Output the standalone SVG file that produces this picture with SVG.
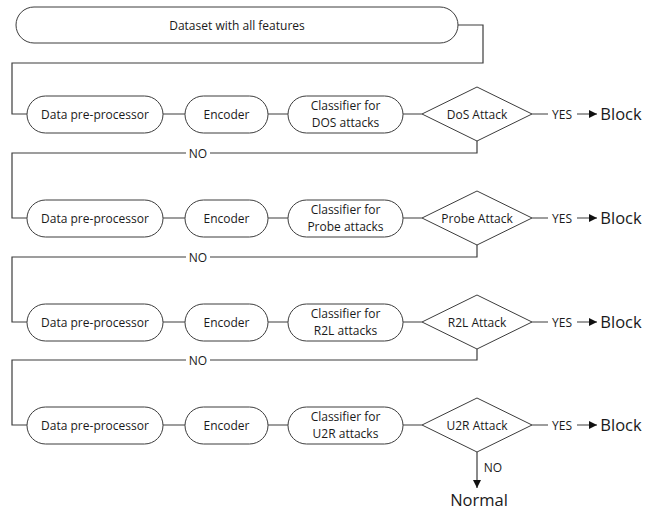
<svg xmlns="http://www.w3.org/2000/svg" width="656" height="510" viewBox="0 0 656 510">
<style>
.n{fill:#fff;stroke:#3c3c3c;stroke-width:1}
.c{fill:none;stroke:#3c3c3c;stroke-width:1.2}
text{font-family:"Open Sans","Noto Sans",sans-serif;fill:#1a1a1a;font-size:12px;text-anchor:middle;dominant-baseline:central}
.big{font-size:16.5px}
</style>
<defs>
<marker id="ah" viewBox="0 0 10 10" refX="10" refY="5" markerWidth="10" markerHeight="8" markerUnits="userSpaceOnUse" orient="auto"><path d="M0,0L10,5L0,10z" fill="#111"/></marker>
</defs>
<rect width="656" height="510" fill="#fff"/>
<g id="connectors">
<path class="c" d="M458,25H483V63H12V114H27"/>
<path class="c" d="M163,114H185M268,114H288M403,114H422"/>
<path class="c" d="M477,141V153H12V218H27"/>
<path class="c" d="M163,218H185M268,218H288M403,218H422"/>
<path class="c" d="M477,245V257H12V322H27"/>
<path class="c" d="M163,322H185M268,322H288M403,322H422"/>
<path class="c" d="M477,349V360H12V425H27"/>
<path class="c" d="M163,425H185M268,425H288M403,425H422"/>
<path class="c" d="M532,114H548M577,114H597" marker-end="url(#ah)"/>
<path class="c" d="M532,218H548M577,218H597" marker-end="url(#ah)"/>
<path class="c" d="M532,322H548M577,322H597" marker-end="url(#ah)"/>
<path class="c" d="M532,425H548M577,425H597" marker-end="url(#ah)"/>
<path class="c" d="M477,452V488" marker-end="url(#ah)"/>
<rect x="186" y="146" width="24" height="14" fill="#fff"/><text x="198" y="153">NO</text>
<rect x="186" y="250" width="24" height="14" fill="#fff"/><text x="198" y="257">NO</text>
<rect x="186" y="353" width="24" height="14" fill="#fff"/><text x="198" y="360">NO</text>
<text x="562" y="114">YES</text>
<text x="562" y="218">YES</text>
<text x="562" y="322">YES</text>
<text x="562" y="425">YES</text>
<text x="493" y="467">NO</text>
</g>
<g id="dataset"><rect class="n" x="16" y="7" width="442" height="36" rx="18"/><text x="237" y="25">Dataset with all features</text></g>

<g id="pre1"><rect class="n" x="27" y="96" width="136" height="37" rx="18.5"/><text x="95" y="114.5">Data pre-processor</text></g>
<g id="enc1"><rect class="n" x="185" y="96" width="83" height="37" rx="18.5"/><text x="226.5" y="114.5">Encoder</text></g>
<g id="cls1"><rect class="n" x="288" y="96" width="115" height="37" rx="18.5"/><text x="345.5" y="105.5">Classifier for</text><text x="345.5" y="122.5">DOS attacks</text></g>
<g id="dec1"><polygon class="n" points="422,114 477,87 532,114 477,141"/><text x="477" y="114">DoS Attack</text></g>
<g id="block1"><text class="big" x="621" y="113.5">Block</text></g>

<g id="pre2"><rect class="n" x="27" y="200" width="136" height="37" rx="18.5"/><text x="95" y="218.5">Data pre-processor</text></g>
<g id="enc2"><rect class="n" x="185" y="200" width="83" height="37" rx="18.5"/><text x="226.5" y="218.5">Encoder</text></g>
<g id="cls2"><rect class="n" x="288" y="200" width="115" height="37" rx="18.5"/><text x="345.5" y="209.5">Classifier for</text><text x="345.5" y="226.5">Probe attacks</text></g>
<g id="dec2"><polygon class="n" points="422,218 477,191 532,218 477,245"/><text x="477" y="218">Probe Attack</text></g>
<g id="block2"><text class="big" x="621" y="217.5">Block</text></g>

<g id="pre3"><rect class="n" x="27" y="304" width="136" height="37" rx="18.5"/><text x="95" y="322.5">Data pre-processor</text></g>
<g id="enc3"><rect class="n" x="185" y="304" width="83" height="37" rx="18.5"/><text x="226.5" y="322.5">Encoder</text></g>
<g id="cls3"><rect class="n" x="288" y="304" width="115" height="37" rx="18.5"/><text x="345.5" y="313.5">Classifier for</text><text x="345.5" y="330.5">R2L attacks</text></g>
<g id="dec3"><polygon class="n" points="422,322 477,295 532,322 477,349"/><text x="477" y="322">R2L Attack</text></g>
<g id="block3"><text class="big" x="621" y="321.5">Block</text></g>

<g id="pre4"><rect class="n" x="27" y="407" width="136" height="37" rx="18.5"/><text x="95" y="425.5">Data pre-processor</text></g>
<g id="enc4"><rect class="n" x="185" y="407" width="83" height="37" rx="18.5"/><text x="226.5" y="425.5">Encoder</text></g>
<g id="cls4"><rect class="n" x="288" y="407" width="115" height="37" rx="18.5"/><text x="345.5" y="416.5">Classifier for</text><text x="345.5" y="433.5">U2R attacks</text></g>
<g id="dec4"><polygon class="n" points="422,425 477,398 532,425 477,452"/><text x="477" y="425">U2R Attack</text></g>
<g id="block4"><text class="big" x="621" y="424.5">Block</text></g>

<g id="normal"><text class="big" x="479" y="499">Normal</text></g>
</svg>
